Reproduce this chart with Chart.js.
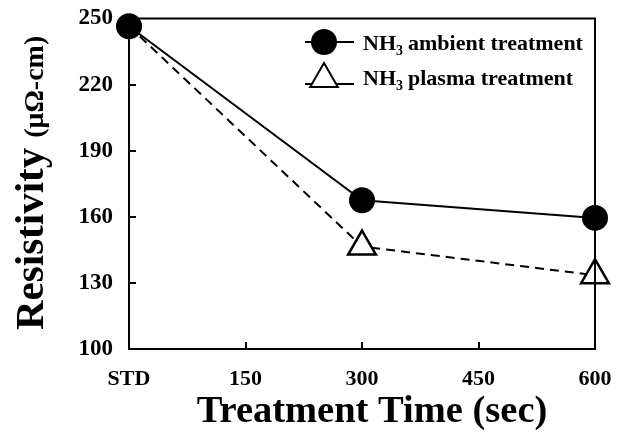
<!DOCTYPE html>
<html>
<head>
<meta charset="utf-8">
<script src="https://cdn.jsdelivr.net/npm/chart.js@4.4.0/dist/chart.umd.min.js"></script>
<style>
    html, body { margin: 0; padding: 0; background: #fff; }
</style>
</head>
<body>
<canvas id="chartResistivity" width="621" height="437"></canvas>
<script>
// ===== Resistivity vs NH3 treatment time =====

const treatmentTimes = [0, 300, 600];
const xTickValues = [0, 150, 300, 450, 600];
const xTickLabels = ['STD', '150', '300', '450', '600'];
const ambientValues = [246.5, 167.5, 159.5];
const plasmaValues = [246.5, 146.5, 133.5];
const seriesNames = ['ambient treatment', 'plasma treatment'];

const SERIF = '"Liberation Serif", "Times New Roman", serif';

function toPoints(values) {
    return treatmentTimes.map((t, i) => ({ x: t, y: values[i] }));
}

// Draw a "NH3 ..." label with a real subscript
function drawNH3Label(ctx, text, x, y) {
    ctx.font = 'bold 22px ' + SERIF;
    ctx.textAlign = 'left';
    ctx.textBaseline = 'alphabetic';
    ctx.fillText('NH', x, y);
    x += ctx.measureText('NH').width;
    ctx.font = 'bold 14px ' + SERIF;
    ctx.fillText('3', x, y + 5);
    x += ctx.measureText('3').width + 5;
    ctx.font = 'bold 22px ' + SERIF;
    ctx.fillText(text, x, y);
}

// Keep tick labels from pushing the plot area around
function noLabelPadding(scale) {
    scale.paddingTop = 0;
    scale.paddingBottom = 0;
    scale.paddingLeft = 0;
    scale.paddingRight = 0;
}

const framePlugin = {
    id: 'framePlugin',
    afterDraw(chart) {
        const ctx = chart.ctx;
        const area = chart.chartArea;
        ctx.save();
        ctx.strokeStyle = '#000';
        ctx.lineWidth = 2;
        ctx.strokeRect(area.left, area.top, area.right - area.left, area.bottom - area.top);
        ctx.restore();
    },
    afterDatasetsDraw(chart) {
        const ctx = chart.ctx;
        ctx.save();
        ctx.fillStyle = '#000';

        // Y title: "Resistivity" big, unit smaller
        ctx.translate(43, 330);
        ctx.rotate(-Math.PI / 2);
        ctx.textAlign = 'left';
        ctx.textBaseline = 'alphabetic';
        ctx.font = 'bold 41px ' + SERIF;
        ctx.fillText('Resistivity', 0, 0);
        const w = ctx.measureText('Resistivity').width;
        ctx.font = 'bold 28px ' + SERIF;
        ctx.fillText('(\u03BC\u03A9-cm)', w + 10, 0);
        ctx.restore();

        // X title
        ctx.save();
        ctx.fillStyle = '#000';
        ctx.font = 'bold 38.5px ' + SERIF;
        ctx.textAlign = 'center';
        ctx.textBaseline = 'alphabetic';
        ctx.fillText('Treatment Time (sec)', 372, 422);
        ctx.restore();

        // Legend
        ctx.save();
        ctx.strokeStyle = '#000';
        ctx.fillStyle = '#000';
        ctx.lineWidth = 2;
        ctx.beginPath();
        ctx.moveTo(305, 42);
        ctx.lineTo(354, 42);
        ctx.stroke();
        ctx.beginPath();
        ctx.arc(324, 42, 13, 0, Math.PI * 2);
        ctx.fill();
        drawNH3Label(ctx, seriesNames[0], 363, 50);

        ctx.beginPath();
        ctx.moveTo(305, 84);
        ctx.lineTo(354, 84);
        ctx.stroke();
        const r = 16, cx = 324, cy = 79;
        ctx.beginPath();
        ctx.moveTo(cx, cy - r);
        ctx.lineTo(cx + r * Math.sin(Math.PI * 2 / 3), cy + r / 2);
        ctx.lineTo(cx - r * Math.sin(Math.PI * 2 / 3), cy + r / 2);
        ctx.closePath();
        ctx.fillStyle = '#fff';
        ctx.fill();
        ctx.stroke();
        ctx.fillStyle = '#000';
        drawNH3Label(ctx, seriesNames[1], 363, 85);
        ctx.restore();
    }
};

const ctxRes = document.getElementById('chartResistivity');
new Chart(ctxRes, {
    type: 'line',
    data: {
        datasets: [
            {
                label: 'NH3 ' + seriesNames[0],
                data: toPoints(ambientValues),
                borderColor: '#000',
                borderWidth: 2,
                backgroundColor: '#000',
                pointStyle: 'circle',
                pointRadius: 13,
                pointBorderWidth: 0,
                pointBackgroundColor: '#000',
                clip: false
            },
            {
                label: 'NH3 ' + seriesNames[1],
                data: toPoints(plasmaValues),
                borderColor: '#000',
                borderWidth: 2,
                borderDash: [9, 6],
                pointStyle: 'triangle',
                pointRadius: [0, 16, 16],
                pointBorderWidth: 2.5,
                pointBorderColor: '#000',
                pointBackgroundColor: '#fff',
                clip: false
            }
        ]
    },
    options: {
        responsive: false,
        animation: false,
        devicePixelRatio: 1,
        layout: { padding: { top: 14, right: 26, left: 0, bottom: 0 } },
        plugins: {
            legend: { display: false },
            tooltip: { enabled: false }
        },
        scales: {
            x: {
                type: 'linear',
                position: 'bottom',
                min: 0,
                max: 600,
                afterBuildTicks: (scale) => {
                    scale.ticks = xTickValues.map(v => ({ value: v }));
                },
                afterFit: (scale) => {
                    scale.height = 88;
                    noLabelPadding(scale);
                },
                border: { display: true, color: '#000', width: 2 },
                grid: { drawOnChartArea: false, color: '#000', lineWidth: 2, tickLength: -7 },
                ticks: {
                    color: '#000',
                    padding: 24,
                    maxRotation: 0,
                    autoSkip: false,
                    font: { family: SERIF, size: 22, weight: 'bold' },
                    callback: (value) => xTickLabels[xTickValues.indexOf(value)]
                }
            },
            y: {
                min: 100,
                max: 250,
                afterFit: (scale) => {
                    scale.width = 129;
                    noLabelPadding(scale);
                },
                border: { display: true, color: '#000', width: 2 },
                grid: { drawOnChartArea: false, color: '#000', lineWidth: 2, tickLength: -7 },
                ticks: {
                    stepSize: 30,
                    color: '#000',
                    padding: 23,
                    font: { family: SERIF, size: 23, weight: 'bold' }
                }
            }
        }
    },
    plugins: [framePlugin]
});
</script>
</body>
</html>
